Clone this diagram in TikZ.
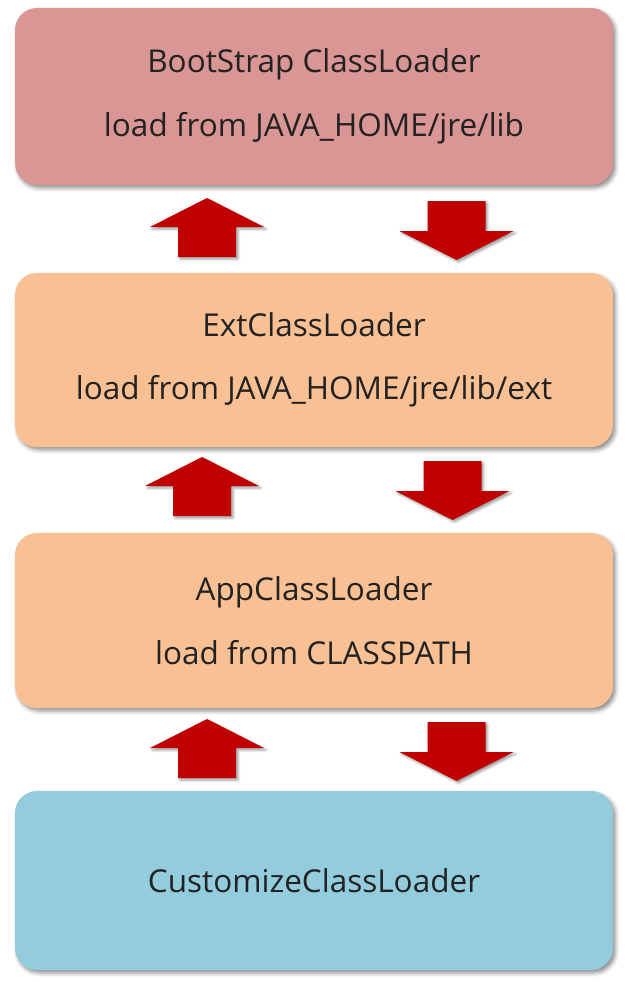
\documentclass[tikz,border=0pt]{standalone}
\usepackage{fontspec}
\setmainfont{Open Sans}
\usetikzlibrary{shadows.blur}
\definecolor{bootc}{HTML}{D99694}
\definecolor{extc}{HTML}{F9C093}
\definecolor{custc}{HTML}{93CDDD}
\definecolor{arrc}{HTML}{C00000}
\definecolor{txtc}{HTML}{222222}
\tikzset{
  loaderbox/.style={rectangle, rounded corners=22pt, minimum width=598pt,
    inner sep=0pt, align=center, text=txtc,
    font=\fontsize{31.5}{31.5}\selectfont,
    blur shadow={shadow xshift=2.5pt, shadow yshift=-3pt,
      shadow blur radius=4pt, shadow opacity=45}},
  blockarrow/.style={fill=arrc,
    blur shadow={shadow xshift=2pt, shadow yshift=-2pt,
      shadow blur radius=2.5pt, shadow opacity=40}},
  uparr/.pic={
    \path[blockarrow] (0,0) -- (57,29) -- (29,29) -- (29,59) -- (-29,59)
      -- (-29,29) -- (-57,29) -- cycle;
    \coordinate (-tip) at (0,0);
  },
  downarr/.pic={
    \path[blockarrow] (-29,0) -- (29,0) -- (29,30) -- (57,30) -- (0,59)
      -- (-57,30) -- (-29,30) -- cycle;
    \coordinate (-top) at (0,0);
  }
}
\begin{document}
\begin{tikzpicture}[x=1pt,y=-1pt]
\useasboundingbox (0,0) rectangle (632,982);
\node[loaderbox, fill=bootc, minimum height=177pt] (boot) at (314,96.5)
  {BootStrap ClassLoader\\[31pt]load from JAVA\_HOME/jre/lib};
\node[loaderbox, fill=extc, minimum height=174pt] (ext) at (314,360)
  {ExtClassLoader\\[31pt]load from JAVA\_HOME/jre/lib/ext};
\node[loaderbox, fill=extc, minimum height=175pt] (app) at (314,620.5)
  {AppClassLoader\\[31pt]load from CLASSPATH};
\node[loaderbox, fill=custc, minimum height=179pt] (cust) at (314,880.5)
  {CustomizeClassLoader};
\pic (up1) at (207,198) {uparr};
\pic (down1) at (456.5,201) {downarr};
\pic (up2) at (202,457) {uparr};
\pic (down2) at (452.5,461) {downarr};
\pic (up3) at (207,719) {uparr};
\pic (down3) at (456.5,722) {downarr};
\end{tikzpicture}
\end{document}
